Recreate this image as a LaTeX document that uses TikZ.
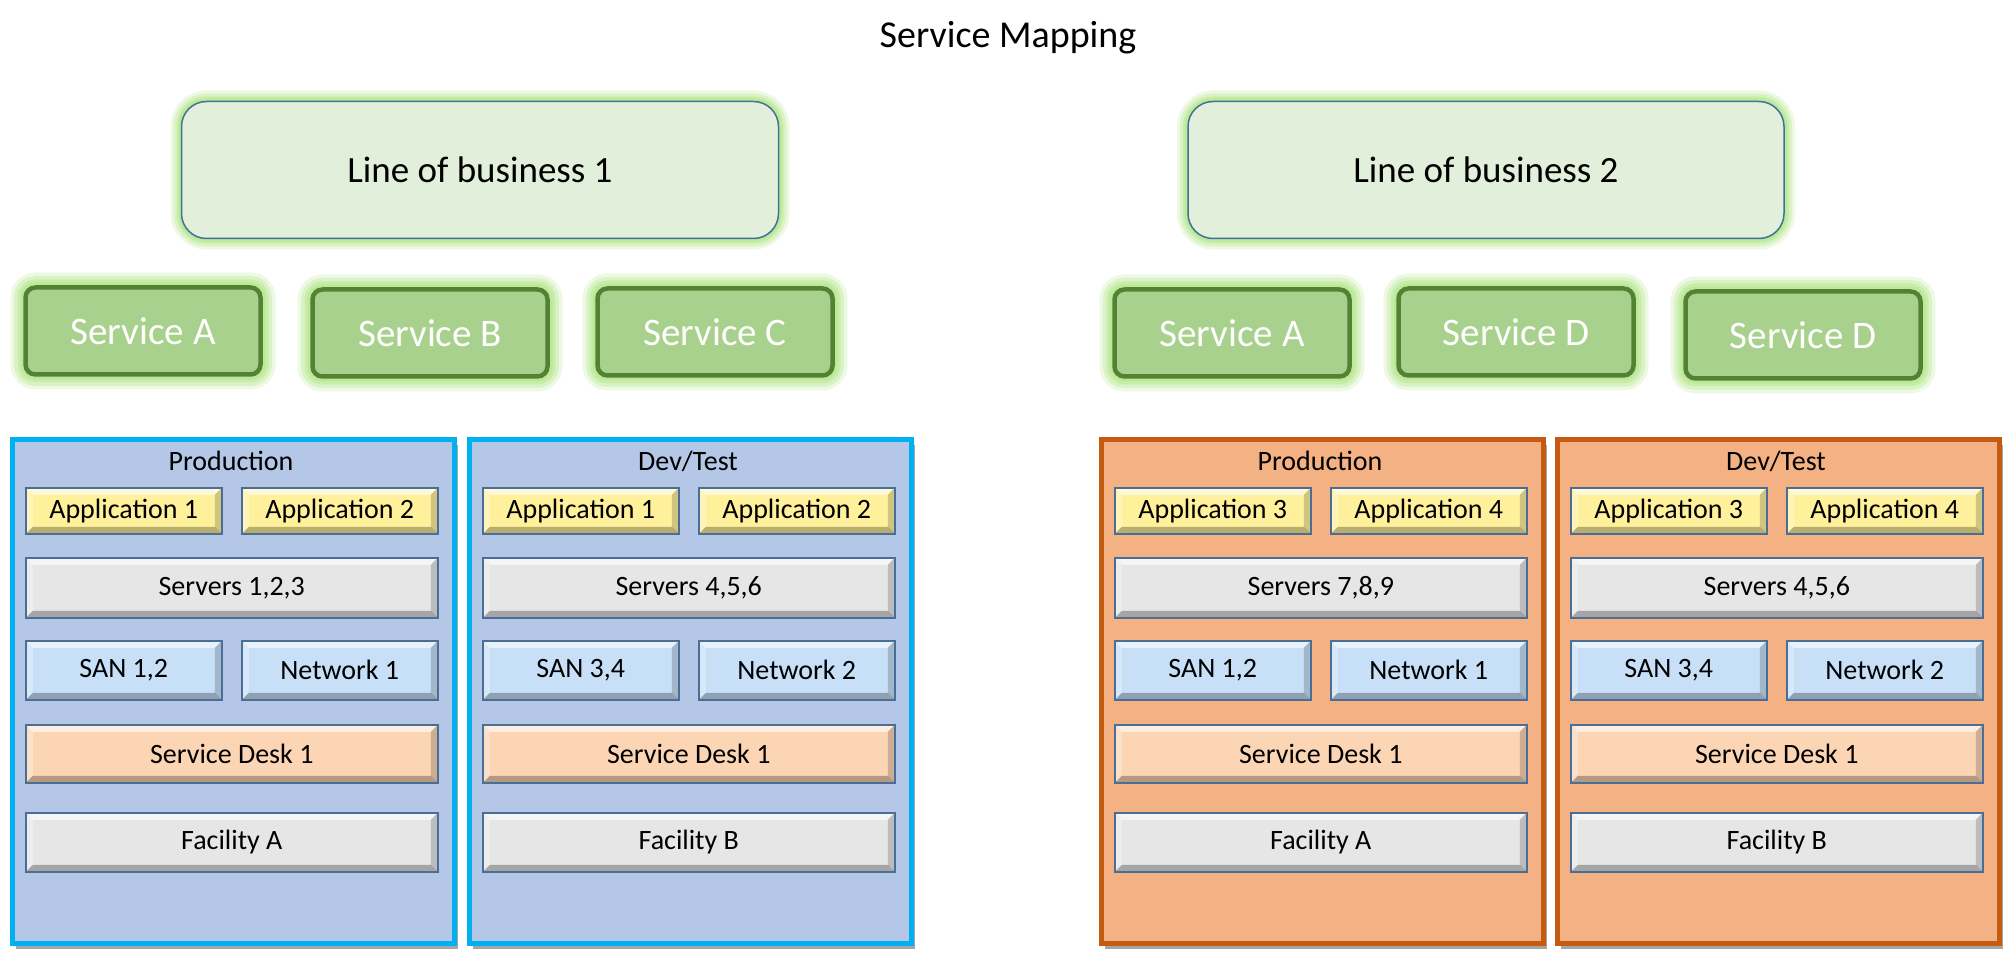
\documentclass[tikz,border=0pt]{standalone}
\usepackage{fontspec}
\setmainfont{Carlito}
\usetikzlibrary{shadows}
\definecolor{lobfill}{HTML}{E2EFDA}
\definecolor{lobborder}{HTML}{41719C}
\definecolor{glow}{HTML}{B8E890}
\definecolor{svcfill}{HTML}{A9D18E}
\definecolor{svcborder}{HTML}{548235}
\definecolor{bluefill}{HTML}{B4C7E7}
\definecolor{blueborder}{HTML}{00B0F0}
\definecolor{orangefill}{HTML}{F4B183}
\definecolor{orangeborder}{HTML}{C55A11}
\definecolor{appfill}{HTML}{FFF09C}
\definecolor{srvfill}{HTML}{E7E6E6}
\definecolor{sanfill}{HTML}{C7E0F7}
\definecolor{deskfill}{HTML}{FCD5B4}
\definecolor{itemborder}{HTML}{4A6E96}
\tikzset{
  title/.style={font=\fontsize{38}{46}\selectfont},
  lob/.style={rounded corners=25pt, fill=lobfill, draw=lobborder, line width=1.5pt,
    font=\fontsize{37}{44}\selectfont,
    preaction={draw=glow, line width=22pt, opacity=0.25},
    preaction={draw=glow, line width=16pt, opacity=0.35},
    preaction={draw=glow, line width=10pt, opacity=0.5},
    preaction={draw=glow, line width=6pt, opacity=0.7}},
  service/.style={rounded corners=10pt, fill=svcfill, draw=svcborder, line width=4.5pt,
    text=white, font=\fontsize{39}{47}\selectfont,
    preaction={draw=glow, line width=30pt, opacity=0.25},
    preaction={draw=glow, line width=23pt, opacity=0.35},
    preaction={draw=glow, line width=16pt, opacity=0.5},
    preaction={draw=glow, line width=10pt, opacity=0.7}},
  panelbox/.style={line width=5pt, inner sep=0pt,
    drop shadow={shadow xshift=3pt, shadow yshift=-5pt, opacity=0.35, fill=black}},
  bluepanel/.style={panelbox, fill=bluefill, draw=blueborder},
  orangepanel/.style={panelbox, fill=orangefill, draw=orangeborder},
  panellabel/.style={font=\fontsize{28}{34}\selectfont},
  item/.style={draw=itemborder, line width=1.5pt, inner sep=0pt, anchor=north west,
    font=\fontsize{28}{34}\selectfont,
    path picture={
      \fill[white,opacity=0.6] (path picture bounding box.north west) -- (path picture bounding box.north east)
        -- ([xshift=-7pt,yshift=-7pt]path picture bounding box.north east) -- ([xshift=7pt,yshift=-7pt]path picture bounding box.north west) -- cycle;
      \fill[black,opacity=0.28] (path picture bounding box.south west) -- (path picture bounding box.south east)
        -- ([xshift=-7pt,yshift=7pt]path picture bounding box.south east) -- ([xshift=7pt,yshift=7pt]path picture bounding box.south west) -- cycle;
      \fill[black,opacity=0.18] (path picture bounding box.north east) -- (path picture bounding box.south east)
        -- ([xshift=-7pt,yshift=7pt]path picture bounding box.south east) -- ([xshift=-7pt,yshift=-7pt]path picture bounding box.north east) -- cycle;
      \fill[white,opacity=0.3] (path picture bounding box.north west) -- (path picture bounding box.south west)
        -- ([xshift=7pt,yshift=7pt]path picture bounding box.south west) -- ([xshift=7pt,yshift=-7pt]path picture bounding box.north west) -- cycle;
    }},
  halfw/.style={minimum width=196pt},
  fullw/.style={minimum width=412pt},
  app/.style={item, halfw, minimum height=46pt, fill=appfill},
  srv/.style={item, fullw, minimum height=60pt, fill=srvfill},
  san/.style={item, halfw, minimum height=59pt, fill=sanfill},
  desk/.style={item, fullw, minimum height=58pt, fill=deskfill},
  fac/.style={item, fullw, minimum height=59pt, fill=srvfill},
}
\begin{document}
\begin{tikzpicture}[x=1pt,y=-1pt]
\useasboundingbox[fill=white] (0,0) rectangle (2008,957);

\node[title] (ttl) at (1008,38) {Service Mapping};

\node[lob, minimum width=597pt, minimum height=137pt] (lob1) at (480,170) {Line of business 1};
\node[lob, minimum width=596pt, minimum height=137pt] (lob2) at (1486,170) {Line of business 2};

\node[service, minimum width=235pt, minimum height=87pt] (s1a) at (143,331) {Service A};
\node[service, minimum width=235pt, minimum height=87pt] (s1b) at (430,333) {Service B};
\node[service, minimum width=235pt, minimum height=87pt] (s1c) at (715,332) {Service C};
\node[service, minimum width=235pt, minimum height=87pt] (s2a) at (1232,333) {Service A};
\node[service, minimum width=235pt, minimum height=87pt] (s2d) at (1516,332) {Service D};
\node[service, minimum width=235pt, minimum height=87pt] (s2e) at (1803,335) {Service D};

% Panel 1: blue Production
\node[bluepanel, minimum width=442pt, minimum height=504pt, anchor=north west] (p1) at (10,437) {};
\node[panellabel] (p1l) at (231,461) {Production};
\node[app] (p1a) at (25,487) {Application 1};
\node[app] (p1b) at (241,487) {Application 2};
\node[srv] (p1s) at (25,557) {Servers 1,2,3};
\node[san] (p1n) at (25,640) {SAN 1,2};
\node[san] (p1w) at (241,640) {Network 1};
\node[desk] (p1d) at (25,724) {Service Desk 1};
\node[fac] (p1f) at (25,812) {Facility A};

% Panel 2: blue Dev/Test
\node[bluepanel, minimum width=442pt, minimum height=504pt, anchor=north west] (p2) at (467,437) {};
\node[panellabel] (p2l) at (688,461) {Dev/Test};
\node[app] (p2a) at (482,487) {Application 1};
\node[app] (p2b) at (698,487) {Application 2};
\node[srv] (p2s) at (482,557) {Servers 4,5,6};
\node[san] (p2n) at (482,640) {SAN 3,4};
\node[san] (p2w) at (698,640) {Network 2};
\node[desk] (p2d) at (482,724) {Service Desk 1};
\node[fac] (p2f) at (482,812) {Facility B};

% Panel 3: orange Production
\node[orangepanel, minimum width=442pt, minimum height=504pt, anchor=north west] (p3) at (1099,437) {};
\node[panellabel] (p3l) at (1320,461) {Production};
\node[app] (p3a) at (1114,487) {Application 3};
\node[app] (p3b) at (1330,487) {Application 4};
\node[srv] (p3s) at (1114,557) {Servers 7,8,9};
\node[san] (p3n) at (1114,640) {SAN 1,2};
\node[san] (p3w) at (1330,640) {Network 1};
\node[desk] (p3d) at (1114,724) {Service Desk 1};
\node[fac] (p3f) at (1114,812) {Facility A};

% Panel 4: orange Dev/Test
\node[orangepanel, minimum width=442pt, minimum height=504pt, anchor=north west] (p4) at (1555,437) {};
\node[panellabel] (p4l) at (1776,461) {Dev/Test};
\node[app] (p4a) at (1570,487) {Application 3};
\node[app] (p4b) at (1786,487) {Application 4};
\node[srv] (p4s) at (1570,557) {Servers 4,5,6};
\node[san] (p4n) at (1570,640) {SAN 3,4};
\node[san] (p4w) at (1786,640) {Network 2};
\node[desk] (p4d) at (1570,724) {Service Desk 1};
\node[fac] (p4f) at (1570,812) {Facility B};
\end{tikzpicture}
\end{document}
